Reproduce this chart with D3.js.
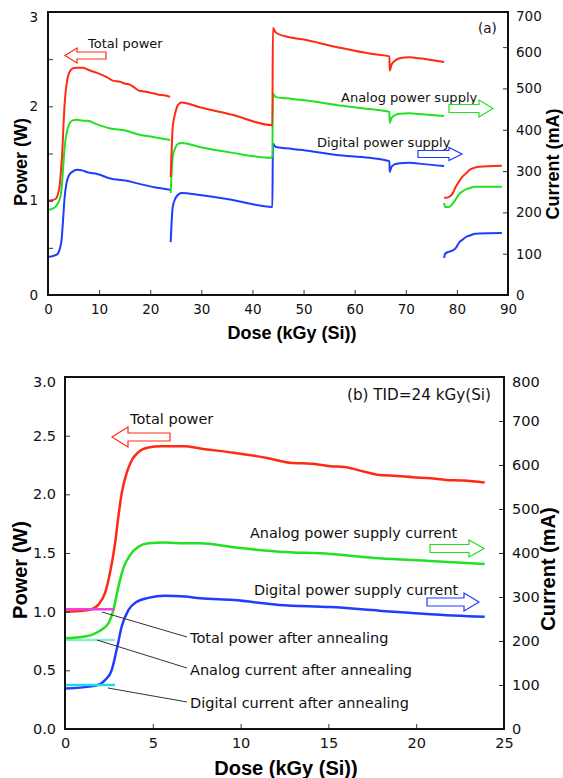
<!DOCTYPE html>
<html>
<head>
<meta charset="utf-8">
<script src="https://cdn.jsdelivr.net/npm/d3@7"></script>
<style>
  html, body { margin: 0; padding: 0; background: #fff; }
  svg { display: block; }
  .tick text { font-family: "DejaVu Sans", Verdana, sans-serif; fill: #111; }
  .title { font-family: "Liberation Sans", Arial, sans-serif; font-weight: bold; fill: #000; }
  .note { font-family: "DejaVu Sans", Verdana, sans-serif; fill: #111; }
</style>
</head>
<body>
<svg id="chart" width="563" height="778"></svg>
<script>
// ---- Measured supply data: dose in kGy(Si); total power in W, currents in mA ----
// First irradiation run (0 - 24 kGy), shown in both panels
const run1Dose    = [0, 0.8, 1.52, 1.9, 2.28, 2.56, 2.85, 3.04, 3.23, 3.51, 3.8, 4.18, 4.75, 5.5, 6.8, 7.7, 9.6, 11.5, 12.8, 14.1, 15.1, 16.0, 17.0, 17.9, 18.9, 19.8, 20.8, 21.7, 22.7, 23.9];
const run1Power   = [1.00, 1.005, 1.02, 1.06, 1.16, 1.33, 1.58, 1.81, 2.01, 2.18, 2.29, 2.36, 2.40, 2.41, 2.41, 2.39, 2.355, 2.31, 2.27, 2.26, 2.24, 2.23, 2.195, 2.165, 2.157, 2.146, 2.137, 2.123, 2.117, 2.10];
const run1AnaDose = [0, 1.14, 1.9, 2.47, 2.75, 3.04, 3.32, 3.7, 4.18, 4.75, 5.69, 6.83, 7.7, 9.6, 12.2, 15.1, 17.9, 20.8, 23.9];
const run1Analog  = [206, 210, 221, 240, 270, 323, 365, 395, 414, 422, 424, 422, 422, 413, 403, 398, 388, 382, 375];
const run1DigDose = [0, 1.71, 2.28, 2.66, 2.94, 3.23, 3.61, 4.08, 4.75, 5.69, 6.83, 7.7, 9.6, 12.2, 15.1, 17.9, 20.8, 23.9];
const run1Digital = [92, 98, 111, 134, 180, 233, 270, 289, 298, 303, 301, 297, 293, 282, 277, 269, 261, 255];

// Second and third irradiation steps (24 - 77.5 kGy)
const run2Dose    = [24.0, 24.2, 24.4, 24.9, 25.4, 26.1, 29.7, 36.1, 43.9, 44.0, 44.6, 46.6, 49.8, 56.4, 62.9, 66.8, 66.85, 67.2, 67.8, 68.8, 70.7, 72.6, 77.5];
const run2Power   = [1.25, 1.55, 1.78, 1.93, 2.01, 2.04, 1.99, 1.91, 1.80, 2.83, 2.78, 2.74, 2.71, 2.63, 2.56, 2.53, 2.38, 2.44, 2.48, 2.51, 2.52, 2.51, 2.47];
const run2Analog  = [247, 300, 334, 356, 366, 368, 358, 344, 332, 487, 479, 476, 472, 460, 450, 443, 417, 428, 435, 439, 440, 438, 433];
const run2Digital = [128, 180, 213, 233, 242, 247, 242, 230, 213, 366, 358, 355, 351, 339, 332, 324, 298, 310, 316, 319, 320, 318, 312];

// Annealing period (77.5 - 89 kGy)
const run3Dose    = [77.5, 77.7, 78.5, 79.2, 79.8, 80.5, 81.0, 82.0, 82.3, 83.5, 84.3, 88.8];
const run3Power   = [1.03, 1.03, 1.04, 1.08, 1.15, 1.21, 1.25, 1.30, 1.32, 1.35, 1.36, 1.37];
const run3Analog  = [223, 213, 213, 222, 232, 245, 250, 257, 258, 262, 262, 262];
const run3Digital = [90, 100, 105, 108, 114, 128, 133, 142, 143, 148, 149, 150];

// Levels recovered after annealing (panel b)
const annealDoseEnd = 2.85;
const annealPowerW = 1.02;
const annealAnalogMA = 202;
const annealDigitalMA = 100;

// Axis tick values
const doseTicksA = [0, 10, 20, 30, 40, 50, 60, 70, 80, 90];
const powerTicksA = [0, 0.5, 1, 1.5, 2, 2.5, 3];
const currentTicksA = [0, 100, 200, 300, 400, 500, 600];
const doseTicksB = [0, 5, 10, 15, 20, 25];
const powerTicksB = [0, 0.5, 1, 1.5, 2, 2.5, 3];
const currentTicksB = [0, 100, 200, 300, 400, 500, 600, 700, 800];

const RED = "#ff2a12", GREEN = "#22e022", BLUE = "#1f3cff";

const svg = d3.select("#chart");
const zip = (xs, ys) => xs.map((x, i) => [x, ys[i]]);

// Hollow block arrow; x0 = tail end, x1 = tip (either direction)
function blockArrow(g, x0, x1, yc, shaftH, headH, headL, color) {
  const dir = x1 > x0 ? 1 : -1;
  const xb = x1 - dir * headL;
  const p = d3.path();
  p.moveTo(x0, yc - shaftH);
  p.lineTo(xb, yc - shaftH);
  p.lineTo(xb, yc - headH);
  p.lineTo(x1, yc);
  p.lineTo(xb, yc + headH);
  p.lineTo(xb, yc + shaftH);
  p.lineTo(x0, yc + shaftH);
  p.closePath();
  g.append("path").attr("d", p.toString())
    .attr("fill", "none").attr("stroke", color).attr("stroke-width", 1.2);
}

function frameAxes(g, o) {
  const { x, yL, yR, xTicks, yLTicks, yRTicks, fs, labelInt } = o;
  const [x0, x1] = x.range();
  const [yb, yt] = yL.range();

  const ax = g.append("g").attr("transform", `translate(0,${yb})`)
    .call(d3.axisBottom(x).tickValues(xTicks).tickSizeInner(-5).tickSizeOuter(0).tickPadding(9)
      .tickFormat(d3.format("d")));
  const al = g.append("g").attr("transform", `translate(${x0},0)`)
    .call(d3.axisLeft(yL).tickValues(yLTicks).tickSizeInner(-5).tickSizeOuter(0).tickPadding(o.padL)
      .tickFormat(d => labelInt ? (Number.isInteger(d) ? d : "") : d3.format(".1f")(d)));
  const ar = g.append("g").attr("transform", `translate(${x1},0)`)
    .call(d3.axisRight(yR).tickValues(yRTicks).tickSizeInner(-5).tickSizeOuter(0).tickPadding(o.padR)
      .tickFormat(d3.format("d")));
  [ax, al, ar].forEach(a => {
    a.select(".domain").remove();
    a.selectAll(".tick line").attr("stroke", "#333").attr("stroke-width", 1);
    a.selectAll(".tick text").style("font-size", fs + "px");
  });
  // keep the topmost labels inside the frame height
  al.selectAll(".tick").filter(d => d === d3.max(yLTicks)).select("text").attr("dy", "0.32em").attr("y", 5);
  ar.selectAll(".tick").filter(d => d === d3.max(yRTicks)).select("text").attr("dy", "0.32em").attr("y", 5);

  g.append("rect").attr("x", x0).attr("y", yt).attr("width", x1 - x0).attr("height", yb - yt)
    .attr("fill", "none").attr("stroke", "#111").attr("stroke-width", 2);
  return ar;
}

// ================= Panel (a): full dose history =================
{
  const g = svg.append("g");
  const x = d3.scaleLinear().domain([0, 90]).range([48, 508]);
  const yL = d3.scaleLinear().domain([0, 3]).range([295, 12]);
  const yR = d3.scaleLinear().domain([0, 685]).range([295, 12]);

  const lineW = d3.line().x(d => x(d[0])).y(d => yL(d[1])).curve(d3.curveMonotoneX);
  const lineA = d3.line().x(d => x(d[0])).y(d => yR(d[1])).curve(d3.curveMonotoneX);

  const series = [
    { data: [zip(run1DigDose, run1Digital), zip(run2Dose, run2Digital), zip(run3Dose, run3Digital)], gen: lineA, color: BLUE },
    { data: [zip(run1AnaDose, run1Analog), zip(run2Dose, run2Analog), zip(run3Dose, run3Analog)], gen: lineA, color: GREEN },
    { data: [zip(run1Dose, run1Power), zip(run2Dose, run2Power), zip(run3Dose, run3Power)], gen: lineW, color: RED }
  ];
  series.forEach(s => s.data.forEach(seg => {
    g.append("path").attr("d", s.gen(seg)).attr("fill", "none")
      .attr("stroke", s.color).attr("stroke-width", 2).attr("stroke-linejoin", "round");
  }));

  const ar = frameAxes(g, { x, yL, yR, xTicks: doseTicksA, yLTicks: powerTicksA, yRTicks: currentTicksA,
    fs: 13.5, labelInt: true, padL: 10, padR: 8 });
  // 700 mA label sits at the top edge of the current axis
  ar.append("text").attr("x", 8).attr("y", 17).attr("dy", "0.32em")
    .style("font-family", '"DejaVu Sans", Verdana, sans-serif').style("font-size", "13.5px")
    .attr("fill", "#111").text("700");

  g.append("text").attr("class", "title").attr("x", 292).attr("y", 333).attr("dy", "0.35em")
    .attr("text-anchor", "middle").style("font-size", "18px").text("Dose (kGy (Si))");
  g.append("text").attr("class", "title").attr("transform", "translate(21,162) rotate(-90)")
    .attr("dy", "0.35em").attr("text-anchor", "middle").style("font-size", "18px").text("Power (W)");
  g.append("text").attr("class", "title").attr("transform", "translate(553,164) rotate(-90)")
    .attr("dy", "0.35em").attr("text-anchor", "middle").style("font-size", "18px").text("Current (mA)");

  const note = (tx, ty, t, fs) => g.append("text").attr("class", "note").attr("x", tx).attr("y", ty)
    .attr("dy", "0.35em").style("font-size", fs + "px").text(t);
  note(88, 43, "Total power", 13);
  note(478, 28, "(a)", 13.5);
  note(341, 97, "Analog power supply", 13);
  note(317, 142, "Digital power supply", 13);
  blockArrow(g, 106, 65, 55.5, 3.5, 7.5, 12, RED);
  blockArrow(g, 449, 493, 108.5, 4, 8.5, 14, GREEN);
  blockArrow(g, 418, 462, 154, 3.5, 6.5, 13, BLUE);
}

// ================= Panel (b): first step, TID = 24 kGy(Si) =================
{
  const g = svg.append("g");
  const x = d3.scaleLinear().domain([0, 25]).range([65, 504]);
  const yL = d3.scaleLinear().domain([0, 3]).range([729, 377]);
  const yR = d3.scaleLinear().domain([0, 800]).range([729, 377]);

  const lineW = d3.line().x(d => x(d[0])).y(d => yL(d[1])).curve(d3.curveMonotoneX);
  const lineA = d3.line().x(d => x(d[0])).y(d => yR(d[1])).curve(d3.curveMonotoneX);

  // post-annealing reference levels
  g.append("line").attr("x1", x(0)).attr("x2", x(annealDoseEnd)).attr("y1", yR(annealAnalogMA)).attr("y2", yR(annealAnalogMA))
    .attr("stroke", "#8eecc8").attr("stroke-width", 2.5);

  g.append("path").attr("d", lineA(zip(run1DigDose, run1Digital))).attr("fill", "none").attr("stroke", BLUE).attr("stroke-width", 2.5);
  g.append("path").attr("d", lineA(zip(run1AnaDose, run1Analog))).attr("fill", "none").attr("stroke", GREEN).attr("stroke-width", 2.5);
  g.append("path").attr("d", lineW(zip(run1Dose, run1Power))).attr("fill", "none").attr("stroke", RED).attr("stroke-width", 2.5);

  g.append("line").attr("x1", x(0)).attr("x2", x(annealDoseEnd)).attr("y1", yL(annealPowerW)).attr("y2", yL(annealPowerW))
    .attr("stroke", "#f040e0").attr("stroke-width", 2.5);
  g.append("line").attr("x1", x(0)).attr("x2", x(annealDoseEnd)).attr("y1", yR(annealDigitalMA)).attr("y2", yR(annealDigitalMA))
    .attr("stroke", "#22d8f0").attr("stroke-width", 2.5);

  frameAxes(g, { x, yL, yR, xTicks: doseTicksB, yLTicks: powerTicksB, yRTicks: currentTicksB,
    fs: 14.5, labelInt: false, padL: 9, padR: 8 });

  g.append("text").attr("class", "title").attr("x", 286).attr("y", 768).attr("dy", "0.35em")
    .attr("text-anchor", "middle").style("font-size", "20px").text("Dose (kGy (Si))");
  g.append("text").attr("class", "title").attr("transform", "translate(20,570) rotate(-90)")
    .attr("dy", "0.35em").attr("text-anchor", "middle").style("font-size", "20px").text("Power (W)");
  g.append("text").attr("class", "title").attr("transform", "translate(548,569) rotate(-90)")
    .attr("dy", "0.35em").attr("text-anchor", "middle").style("font-size", "20px").text("Current (mA)");

  const note = (tx, ty, t, fs) => g.append("text").attr("class", "note").attr("x", tx).attr("y", ty)
    .attr("dy", "0.35em").style("font-size", fs + "px").text(t);
  note(130, 419, "Total power", 14.5);
  note(347, 395, "(b) TID=24 kGy(Si)", 15.2);
  note(250, 533, "Analog power supply current", 14.4);
  note(254, 590, "Digital power supply current", 14.4);
  blockArrow(g, 170, 112, 437, 4, 10, 16, RED);
  blockArrow(g, 430, 484, 548.5, 4, 8.5, 15, GREEN);
  blockArrow(g, 427, 479, 602, 4, 9, 15, BLUE);

  // leader lines to the annealing labels
  const leaders = [
    { from: [102, 612], to: [187, 637], ty: 638, t: "Total power after annealing" },
    { from: [97, 640], to: [187, 668], ty: 670, t: "Analog current after annealing" },
    { from: [108, 688], to: [187, 702], ty: 703, t: "Digital current after annealing" }
  ];
  leaders.forEach(l => {
    g.append("line").attr("x1", l.from[0]).attr("y1", l.from[1]).attr("x2", l.to[0]).attr("y2", l.to[1])
      .attr("stroke", "#333").attr("stroke-width", 1);
    note(190, l.ty, l.t, 14.5);
  });
}
</script>
</body>
</html>
